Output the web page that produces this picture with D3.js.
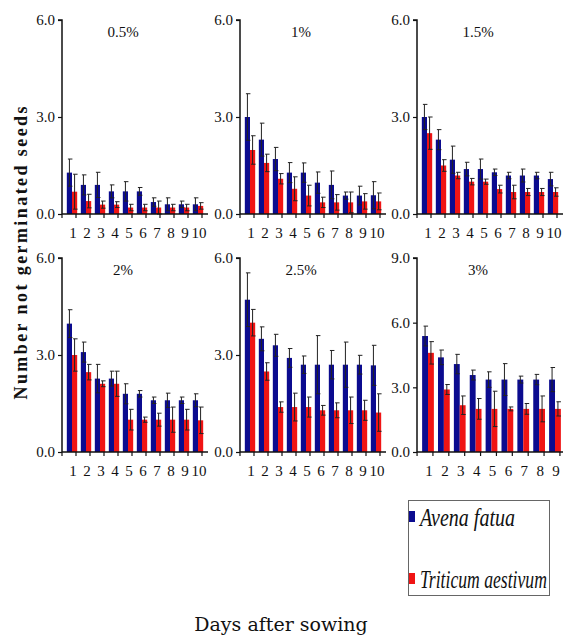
<!DOCTYPE html>
<html>
<head>
<meta charset="utf-8">
<script src="https://cdn.jsdelivr.net/npm/d3@7"></script>
<style>
  body { margin: 0; background: #fff; }
  svg { display: block; }
  text { font-family: "Liberation Serif", "Times New Roman", serif; fill: #111; }
</style>
</head>
<body>
<svg id="chart" width="565" height="639"></svg>
<script>
// concentrations (one panel each) and days after sowing
const concentrations = ["0.5%", "1%", "1.5%", "2%", "2.5%", "3%"];
const days = [
  [1, 2, 3, 4, 5, 6, 7, 8, 9, 10],
  [1, 2, 3, 4, 5, 6, 7, 8, 9, 10],
  [1, 2, 3, 4, 5, 6, 7, 8, 9, 10],
  [1, 2, 3, 4, 5, 6, 7, 8, 9, 10],
  [1, 2, 3, 4, 5, 6, 7, 8, 9, 10],
  [1, 2, 3, 4, 5, 6, 7, 8, 9]
];
const yMax = [6, 6, 6, 6, 6, 9];
const yTicks = [[0, 3, 6], [0, 3, 6], [0, 3, 6], [0, 3, 6], [0, 3, 6], [0, 3, 6, 9]];

// Avena fatua: mean and error
const avenaMean = [
  [1.28, 0.9, 0.9, 0.7, 0.7, 0.7, 0.37, 0.3, 0.3, 0.3],
  [3.0, 2.3, 1.7, 1.28, 1.28, 0.97, 0.9, 0.57, 0.57, 0.58],
  [3.0, 2.3, 1.68, 1.39, 1.39, 1.29, 1.19, 1.19, 1.19, 1.08],
  [3.97, 3.09, 2.27, 2.27, 1.8, 1.8, 1.6, 1.6, 1.6, 1.6],
  [4.71, 3.5, 3.3, 2.91, 2.7, 2.7, 2.7, 2.7, 2.7, 2.68],
  [5.38, 4.39, 4.08, 3.57, 3.36, 3.36, 3.36, 3.36, 3.36]
];
const avenaErr = [
  [0.42, 0.31, 0.39, 0.2, 0.3, 0.12, 0.13, 0.2, 0.1, 0.2],
  [0.72, 0.51, 0.36, 0.31, 0.3, 0.33, 0.43, 0.11, 0.29, 0.42],
  [0.39, 0.31, 0.42, 0.21, 0.31, 0.1, 0.1, 0.2, 0.1, 0.21],
  [0.43, 0.31, 0.44, 0.23, 0.31, 0.1, 0.1, 0.22, 0.1, 0.2],
  [0.83, 0.37, 0.34, 0.29, 0.27, 0.9, 0.44, 0.7, 0.29, 0.62],
  [0.46, 0.34, 0.45, 0.23, 0.36, 0.74, 0.16, 0.24, 0.56]
];

// Triticum aestivum: mean and error
const triticumMean = [
  [0.69, 0.4, 0.29, 0.29, 0.2, 0.2, 0.2, 0.2, 0.2, 0.25],
  [1.98, 1.58, 1.09, 0.78, 0.57, 0.36, 0.36, 0.36, 0.39, 0.39],
  [2.5, 1.5, 1.19, 1.0, 1.0, 0.77, 0.68, 0.68, 0.68, 0.68],
  [3.0, 2.47, 2.11, 2.11, 1.0, 1.0, 1.0, 1.0, 1.0, 0.98],
  [4.0, 2.49, 1.39, 1.39, 1.39, 1.29, 1.29, 1.29, 1.29, 1.22],
  [4.6, 2.9, 2.17, 2.0, 2.0, 2.0, 2.0, 2.0, 2.0]
];
const triticumErr = [
  [0.54, 0.21, 0.11, 0.09, 0.1, 0.1, 0.2, 0.1, 0.1, 0.1],
  [0.44, 0.27, 0.16, 0.37, 0.32, 0.16, 0.24, 0.32, 0.24, 0.26],
  [0.5, 0.18, 0.1, 0.1, 0.08, 0.12, 0.21, 0.11, 0.11, 0.13],
  [0.5, 0.24, 0.09, 0.39, 0.32, 0.08, 0.2, 0.39, 0.32, 0.41],
  [0.41, 0.27, 0.16, 0.43, 0.31, 0.15, 0.23, 0.41, 0.31, 0.58],
  [0.52, 0.23, 0.43, 0.48, 0.82, 0.09, 0.25, 0.6, 0.33]
];

const species = ["Avena fatua", "Triticum aestivum"];
const colors = ["#0b0b8f", "#f01414"];

const svg = d3.select("#chart");

// panel frames: left of y axis, top and bottom of plot area
const colX = [62, 240, 417];
const rowY = [[20, 214], [258, 452]];
const axisW = 146;

concentrations.forEach((title, p) => {
  const x0 = colX[p % 3];
  const [yTop, yBot] = rowY[Math.floor(p / 3)];
  const n = days[p].length;
  const g = svg.append("g");

  const y = d3.scaleLinear().domain([0, yMax[p]]).range([yBot, yTop]);
  const x = d3.scalePoint()
    .domain(days[p])
    .range(n === 10 ? [x0 + 10, x0 + 136] : [x0 + 11, x0 + 138]);
  const step = x.step();
  const bw = step * 0.37;

  // y axis
  const yAxis = d3.axisLeft(y)
    .tickValues(yTicks[p])
    .tickFormat(d3.format(".1f"))
    .tickSize(4)
    .tickPadding(3);
  const ya = g.append("g").attr("transform", `translate(${x0},0)`).call(yAxis);
  ya.select(".domain").attr("stroke", "#111").attr("stroke-width", 1.5).attr("d", `M-4,${yTop}H0V${yBot}`);
  ya.selectAll(".tick line").attr("stroke", "#111").attr("stroke-width", 1.2);
  ya.selectAll(".tick text")
    .style("font-family", "Liberation Serif")
    .style("font-size", "15px")
    .attr("fill", "#111");

  // bars
  const series = [
    { mean: avenaMean[p], err: avenaErr[p], off: -bw },
    { mean: triticumMean[p], err: triticumErr[p], off: 0 }
  ];
  series.forEach((s, k) => {
    const rows = days[p].map((d, i) => ({ d, v: s.mean[i], e: s.err[i] }));
    g.append("g").selectAll("rect").data(rows).join("rect")
      .attr("x", (r) => x(r.d) + s.off)
      .attr("y", (r) => y(r.v))
      .attr("width", bw)
      .attr("height", (r) => yBot - y(r.v))
      .attr("fill", colors[k]);
    const eb = g.append("g").attr("stroke", "#222").attr("stroke-width", 1).selectAll("g").data(rows).join("g");
    const cx = (r) => x(r.d) + s.off + bw / 2;
    eb.append("line")
      .attr("x1", cx).attr("x2", cx)
      .attr("y1", (r) => y(Math.max(0, r.v - r.e)))
      .attr("y2", (r) => y(r.v + r.e));
    eb.append("line")
      .attr("x1", (r) => cx(r) - 1.5).attr("x2", (r) => cx(r) + 3)
      .attr("y1", (r) => y(r.v + r.e)).attr("y2", (r) => y(r.v + r.e));
    eb.append("line")
      .attr("x1", (r) => cx(r) - 1.5).attr("x2", (r) => cx(r) + 3)
      .attr("y1", (r) => y(Math.max(0, r.v - r.e))).attr("y2", (r) => y(Math.max(0, r.v - r.e)));
  });

  // x axis with ticks between groups
  g.append("line")
    .attr("x1", x0).attr("x2", x0 + axisW)
    .attr("y1", yBot).attr("y2", yBot)
    .attr("stroke", "#111").attr("stroke-width", 1.5);
  const tickPos = days[p].map((d) => x(d) - step / 2 - 3).concat([x(days[p][n - 1]) + step / 2 - 3]);
  g.append("g").selectAll("line").data(tickPos).join("line")
    .attr("x1", (d) => d).attr("x2", (d) => d)
    .attr("y1", yBot).attr("y2", yBot + 4)
    .attr("stroke", "#111").attr("stroke-width", 1.2);
  g.append("g").selectAll("text").data(days[p]).join("text")
    .attr("x", (d) => x(d) + 1)
    .attr("y", yBot + 24)
    .attr("text-anchor", "middle")
    .style("font-size", "15px")
    .text((d) => d);

  // panel title
  g.append("text")
    .attr("x", x0 + 61)
    .attr("y", yTop + 17)
    .attr("text-anchor", "middle")
    .style("font-size", "15px")
    .text(title);
});

// y axis title
svg.append("text")
  .attr("transform", "translate(27,253) rotate(-90)")
  .attr("text-anchor", "middle")
  .attr("textLength", 293)
  .attr("lengthAdjust", "spacing")
  .style("font-size", "18px")
  .style("font-weight", "bold")
  .text("Number not germinated seeds");

// legend
const lg = svg.append("g");
lg.append("rect")
  .attr("x", 408.5).attr("y", 500.5).attr("width", 141).attr("height", 95)
  .attr("fill", "#fff").attr("stroke", "#666").attr("stroke-width", 1);
const legendRows = [{ y: 526, len: 95 }, { y: 588, len: 127 }];
species.forEach((name, i) => {
  lg.append("rect")
    .attr("x", 409).attr("y", legendRows[i].y - 15)
    .attr("width", 6).attr("height", 11)
    .attr("fill", colors[i]);
  // condensed italic: squeeze horizontally to the measured width
  const t = lg.append("text")
    .style("font-size", "25px")
    .style("font-style", "italic")
    .text(name);
  const natural = t.node().getComputedTextLength();
  t.attr("transform", `translate(420,${legendRows[i].y}) scale(${legendRows[i].len / natural},1)`);
});

// x axis title
svg.append("text")
  .attr("x", 281)
  .attr("y", 631)
  .attr("text-anchor", "middle")
  .style("font-family", "DejaVu Serif")
  .style("font-size", "19px")
  .text("Days after sowing");
</script>
</body>
</html>
